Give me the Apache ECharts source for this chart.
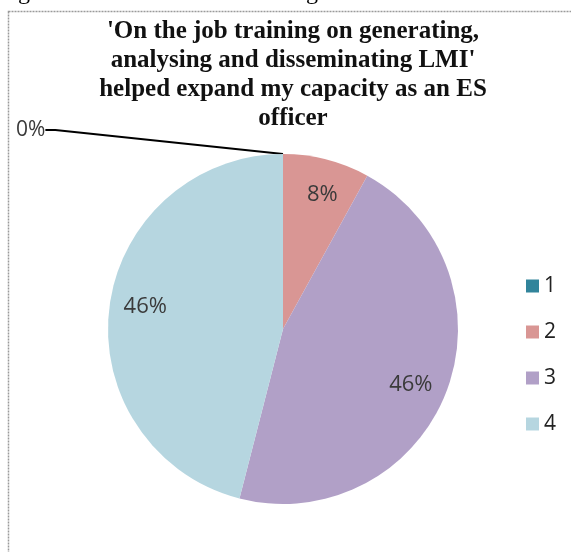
<!DOCTYPE html>
<html>
<head>
<meta charset="utf-8">
<script src="https://cdn.jsdelivr.net/npm/echarts@6/dist/echarts.min.js"></script>
<style>
  html, body { margin: 0; padding: 0; background: #fff; }
  #chart { width: 571px; height: 552px; }
</style>
</head>
<body>
<div id="chart"></div>
<script>
// Response categories (rating scale) and their shares in percent
const categories = ['1', '2', '3', '4'];
const shares = [0, 8, 46, 46];
const colors = ['#31849B', '#D99694', '#B1A0C7', '#B6D6E0'];

const chartTitle = "'On the job training on generating,\nanalysing and disseminating LMI'\nhelped expand my capacity as an ES\nofficer";
const figureCaption = 'Figure 10: Evaluation on training module on General';

const chart = echarts.init(document.getElementById('chart'), null, { renderer: 'canvas' });

const pieCenter = [283, 329];
const pieRadius = 175;
const labelFont = '"Open Sans", "Liberation Sans", sans-serif';

const sliceData = categories.map((name, i) => ({
  name: name,
  value: shares[i],
  itemStyle: { color: colors[i] },
  // only the empty category gets an outside label with a leader line
  label: { show: shares[i] === 0 },
  labelLine: { show: shares[i] === 0 }
}));

// transparent ring that carries the in-slice percentage labels further out
const labelRingData = categories.map((name, i) => ({
  name: name,
  value: shares[i],
  label: { show: shares[i] !== 0 }
}));

const option = {
  animation: false,
  color: colors,
  graphic: [
    {
      type: 'rect',
      shape: { x: 8.5, y: 11.5, width: 620, height: 620 },
      style: { fill: 'none', stroke: '#9a9a9a', lineWidth: 1.5, lineDash: [2, 1] },
      silent: true, z: 0
    },
    {
      type: 'text',
      x: -2, y: 5,
      style: {
        text: figureCaption,
        font: '24px "Liberation Serif", "Times New Roman", serif',
        fill: '#000',
        verticalAlign: 'bottom',
        align: 'left'
      },
      silent: true
    },
    {
      type: 'text',
      x: 293, y: 17,
      style: {
        text: chartTitle,
        font: 'bold 25px "Liberation Serif", "Times New Roman", serif',
        lineHeight: 29,
        fill: '#111',
        align: 'center',
        verticalAlign: 'top'
      },
      silent: true
    }
  ],
  legend: {
    orient: 'vertical',
    left: 521,
    top: 269,
    itemWidth: 13,
    itemHeight: 13,
    itemGap: 22,
    icon: 'rect',
    data: categories,
    textStyle: {
      fontFamily: labelFont,
      fontSize: 21,
      lineHeight: 24,
      color: '#222',
      padding: [0, 0, 0, 0]
    }
  },
  series: [
    {
      type: 'pie',
      center: pieCenter,
      radius: pieRadius,
      startAngle: 90,
      clockwise: true,
      avoidLabelOverlap: false,
      data: sliceData,
      itemStyle: { borderWidth: 0 },
      label: {
        position: 'outside',
        formatter: '{d}%',
        fontFamily: labelFont,
        fontSize: 21,
        color: '#3a3a3a'
      },
      labelLine: {
        lineStyle: { color: '#000', width: 2 },
        length: 10,
        length2: 10
      },
      labelLayout: function (params) {
        if (params.dataIndex === 0) {
          return { x: 16, y: 130, align: 'left', verticalAlign: 'middle' };
        }
      },
      emphasis: { disabled: true }
    },
    {
      type: 'pie',
      center: pieCenter,
      radius: [pieRadius * 0.56, pieRadius],
      startAngle: 88,
      clockwise: true,
      silent: true,
      legendHoverLink: false,
      data: labelRingData,
      itemStyle: { color: 'rgba(0,0,0,0)', borderWidth: 0 },
      label: {
        position: 'inside',
        formatter: '{d}%',
        fontFamily: labelFont,
        fontSize: 22,
        color: '#3a3a3a'
      },
      labelLine: { show: false },
      emphasis: { disabled: true }
    }
  ]
};

chart.setOption(option);
</script>
</body>
</html>
